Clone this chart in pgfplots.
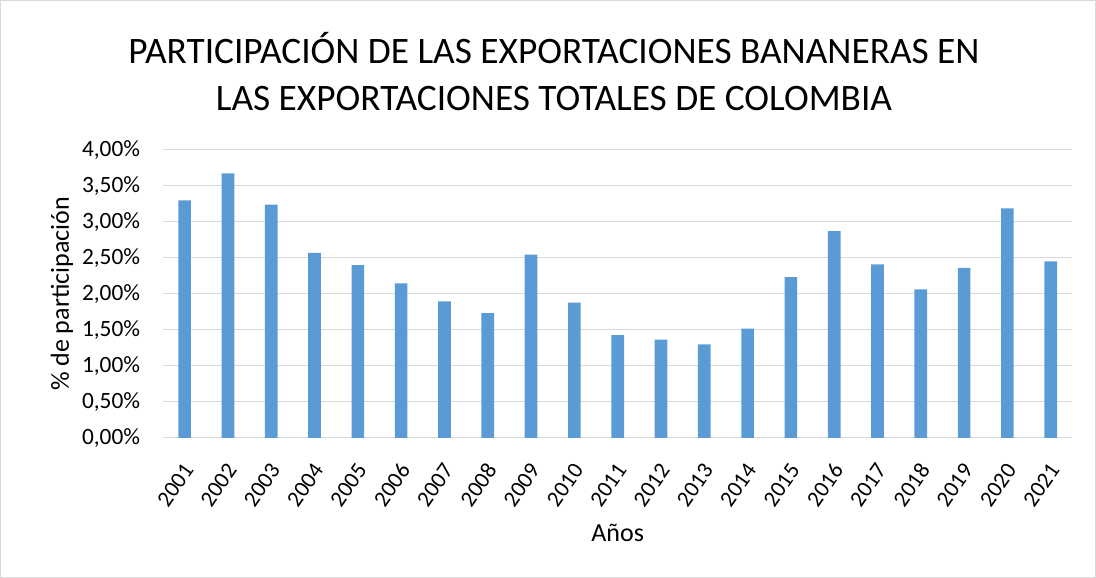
\documentclass[border=0pt]{standalone}
\usepackage{fontspec}
\setmainfont{Carlito}
\usepackage{pgfplots}
\pgfplotsset{compat=1.18}
\definecolor{barblue}{HTML}{5B9BD5}
\definecolor{gridgray}{HTML}{D9D9D9}
\begin{document}
\begin{tikzpicture}
% frame of the chart area (1096x578 px at 0.75pt/px)
\draw[gridgray, line width=0.75pt] (0.4pt,0.4pt) rectangle (821.6pt,433.1pt);
\node[align=center, font=\fontsize{28}{35}\selectfont] at (415.5pt,380pt)
  {PARTICIPACIÓN DE LAS EXPORTACIONES BANANERAS EN\\LAS EXPORTACIONES TOTALES DE COLOMBIA};
\begin{axis}[
    at={(122.25pt,105pt)}, anchor=south west,
    scale only axis, width=682pt, height=216pt,
    ybar, bar width=9.5pt,
    xmin=-0.5, xmax=20.5,
    ymin=0, ymax=4,
    ytick={0,0.5,...,4},
    xtick={0,...,20},
    xticklabels={2001,2002,2003,2004,2005,2006,2007,2008,2009,2010,2011,2012,2013,2014,2015,2016,2017,2018,2019,2020,2021},
    x tick label style={rotate=55, anchor=east, inner sep=0pt, xshift=-12pt, yshift=-12pt, font=\fontsize{17}{18}\selectfont},
    y tick label style={font=\fontsize{17.5}{18}\selectfont, inner sep=0pt, xshift=-17pt},
    yticklabel={\pgfmathprintnumber[fixed, fixed zerofill, precision=2, use comma, assume math mode=true]{\tick}\%},
    ymajorgrids=true,
    grid style={gridgray, line width=0.75pt},
    axis x line*=bottom, axis y line*=left,
    x axis line style={gridgray, line width=0.75pt, -},
    y axis line style={draw=none},
    tick style={draw=none},
    xlabel={Años}, ylabel={\% de participación},
    label style={font=\fontsize{19.5}{22}\selectfont},
    xlabel style={at={(axis description cs:0.5,-0.33)}, anchor=center},
    ylabel style={at={(axis description cs:-0.111,0.5)}, anchor=center, rotate=0},
]
\addplot[fill=barblue, draw=none] coordinates {
(0,3.30) (1,3.675) (2,3.24) (3,2.57) (4,2.40) (5,2.146) (6,1.896) (7,1.733)
(8,2.545) (9,1.88) (10,1.43) (11,1.367) (12,1.30) (13,1.52) (14,2.234)
(15,2.874) (16,2.41) (17,2.063) (18,2.364) (19,3.19) (20,2.452)};
\end{axis}
\end{tikzpicture}
\end{document}
